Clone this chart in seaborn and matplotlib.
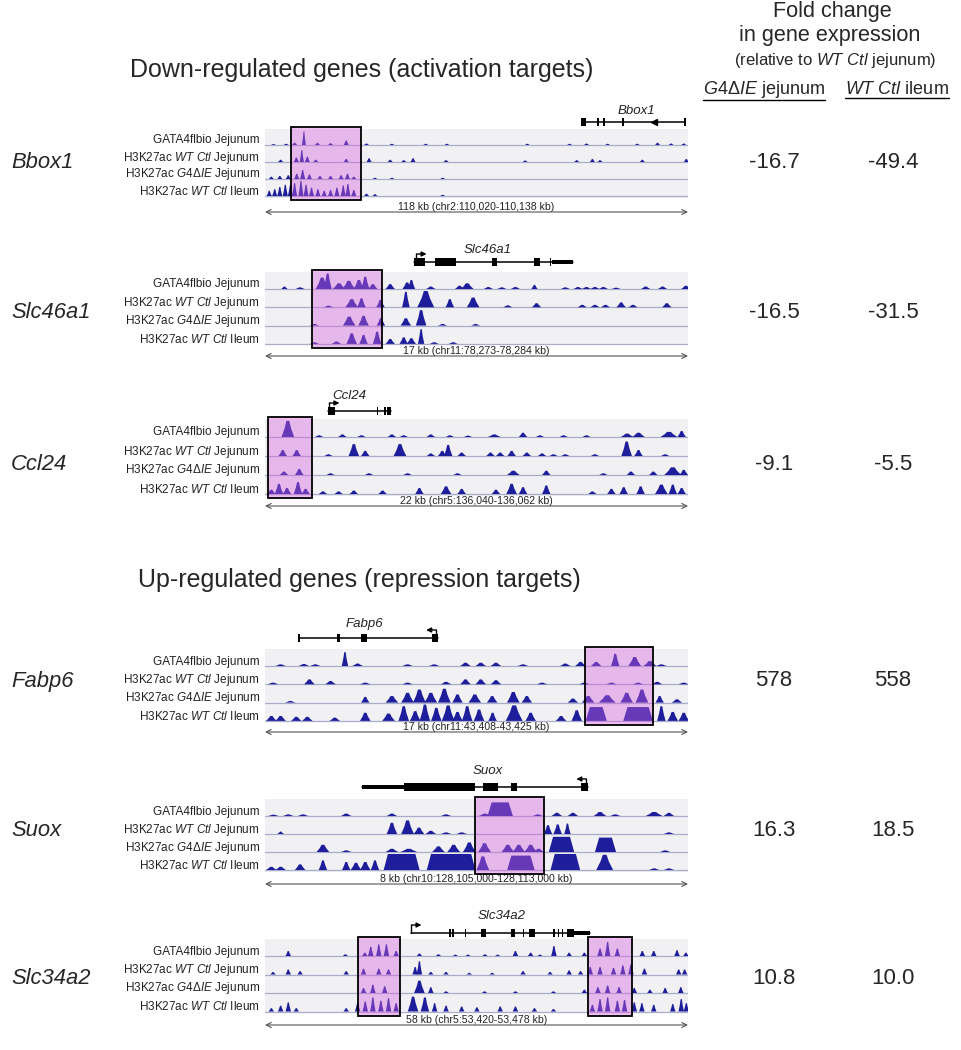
import matplotlib
matplotlib.use("Agg")
import pandas as pd
import seaborn as sns
import matplotlib.pyplot as plt
from matplotlib.lines import Line2D

W, H = 961, 1050

# ---- data ----
genes = ["Bbox1", "Slc46a1", "Ccl24", "Fabp6", "Suox", "Slc34a2"]
fold_g4 = [-16.7, -16.5, -9.1, 578, 16.3, 10.8]
fold_ileum = [-49.4, -31.5, -5.5, 558, 18.5, 10.0]
scale_labels = [
    "118 kb (chr2:110,020-110,138 kb)",
    "17 kb (chr11:78,273-78,284 kb)",
    "22 kb (chr5:136,040-136,062 kb)",
    "17 kb (chr11:43,408-43,425 kb)",
    "8 kb (chr10:128,105,000-128,113,000 kb)",
    "58 kb (chr5:53,420-53,478 kb)",
]
track_names = [
    "GATA4flbio Jejunum",
    r"H3K27ac $\mathit{WT\ Ctl}$ Jejunum",
    r"H3K27ac $\mathit{G4ΔIE}$ Jejunum",
    r"H3K27ac $\mathit{WT\ Ctl}$ Ileum",
]
# highlighted regions, % of window
highlights = [
    [(6.1, 22.7)],
    [(11.1, 27.7)],
    [(0.7, 11.1)],
    [(75.7, 91.7)],
    [(49.6, 66.0)],
    [(22.0, 31.9), (76.4, 86.8)],
]

# gene models: span, exons (start, end, kind), TSS (pos, direction), label pos
gene_spans = [(75.0, 99.3), (35.3, 72.8), (14.9, 29.8), (8.0, 40.9), (22.9, 76.4), (34.5, 76.8)]
gene_exons = [
    [(74.6, 75.8, "cds"), (78.5, 78.9, "cds"), (80.0, 80.4, "cds"), (84.4, 84.8, "cds"), (99.1, 99.5, "cds")],
    [(35.3, 37.8, "cds"), (40.2, 45.2, "cds"), (53.6, 54.8, "cds"), (63.6, 65.0, "cds"),
     (67.3, 67.6, "cds"), (67.8, 72.8, "utr")],
    [(14.9, 16.5, "cds"), (26.4, 26.8, "cds"), (28.2, 28.6, "cds"), (28.8, 29.8, "cds")],
    [(7.9, 8.2, "cds"), (17.0, 17.7, "cds"), (22.7, 24.1, "cds"), (39.5, 40.9, "cds")],
    [(22.9, 32.9, "utr"), (32.9, 49.6, "cds"), (51.5, 55.1, "cds"), (58.2, 59.6, "cds"), (74.6, 76.4, "cds")],
    [(43.6, 43.9, "cds"), (44.3, 44.6, "cds"), (47.2, 47.5, "cds"), (51.1, 52.2, "cds"), (58.2, 59.1, "cds"),
     (60.9, 61.2, "cds"), (62.4, 63.8, "cds"), (68.2, 68.5, "cds"), (69.2, 69.5, "cds"), (70.1, 70.4, "cds"),
     (71.4, 73.0, "cds"), (73.0, 76.8, "utr")],
]
gene_tss = [None, (35.8, 1), (15.2, 1), (40.5, -1), (76.0, -1), (34.6, 1)]
gene_label_x = [87.7, 52.7, 20.0, 23.6, 52.7, 56.0]

# signal peaks per track: (centre %, height 0-1[, width %])
bbox1_tracks = [
    [(2, 0.06), (5, 0.08), (7, 0.15), (9.2, 0.9, 0.9), (12.4, 0.15), (15.5, 0.12), (19.2, 0.3), (24, 0.1),
     (30, 0.08), (38, 0.08), (43, 0.08), (62, 0.08), (72, 0.08), (76, 0.1), (81, 0.08), (88, 0.08),
     (92.8, 0.15), (96, 0.1), (99, 0.1)],
    [(3.7, 0.15), (7.4, 0.3), (8.7, 0.8, 1.0), (10, 0.35), (12, 0.15), (19.2, 0.2), (24.6, 0.25),
     (29.6, 0.15), (32.8, 0.12), (35, 0.25), (42.8, 0.12), (61.5, 0.1), (73.7, 0.12), (77.4, 0.2),
     (79.2, 0.12), (89.2, 0.15), (99.6, 0.2)],
    [(1.5, 0.15), (3.5, 0.2), (5.5, 0.25), (7.5, 0.35), (8.9, 0.6), (10.5, 0.3), (13, 0.2), (15.5, 0.2),
     (18, 0.25), (19.5, 0.35), (21, 0.15), (26, 0.08), (30, 0.08), (42, 0.08)],
    [(1, 0.35), (2.3, 0.45), (3.5, 0.6), (4.8, 0.75), (6, 0.7), (7, 0.85), (8.5, 1.0), (9.7, 0.75),
     (11, 0.55), (12.5, 0.45), (14, 0.35), (15.5, 0.4), (17, 0.55), (18.5, 0.7), (19.6, 0.8), (21, 0.4),
     (24, 0.15), (26, 0.12), (42, 0.08)],
]
slc46a1_tracks = [
    [(4.6, 0.15, 1.5), (8.3, 0.1), (13.5, 0.7, 3), (14.8, 0.95, 2), (17.5, 0.35, 3), (19.8, 0.5, 3),
     (22.2, 0.55, 2.5), (23.7, 0.75, 2), (25.5, 0.3), (29.6, 0.3), (33.6, 0.4), (34.6, 0.55, 1.8),
     (39.2, 0.15), (46, 0.2), (47.8, 0.35, 3), (52.8, 0.12), (56, 0.1), (59.2, 0.12), (63.7, 0.25, 1.5),
     (71, 0.1), (74, 0.12), (76, 0.12), (78, 0.12), (80, 0.12), (83, 0.08), (90, 0.15), (94, 0.15),
     (99.5, 0.2)],
    [(15, 0.1), (20.5, 0.5, 3), (22.8, 0.55, 2), (27.3, 0.45, 2), (33.3, 0.95, 1.8), (38.0, 1.0, 4),
     (43.7, 0.5, 2), (49.2, 0.6, 3), (57.4, 0.12), (64.2, 0.25), (75, 0.15), (78, 0.15), (80.5, 0.15),
     (84.2, 0.3), (87, 0.15), (95, 0.25)],
    [(11.7, 0.1), (19.9, 0.55, 3), (23.3, 0.6, 2.5), (27.4, 0.45, 2), (33.3, 0.45, 2.5), (36.9, 0.95, 2.5),
     (42, 0.1), (49.8, 0.1)],
    [(11.7, 0.1), (16.9, 0.15), (20.5, 0.65, 2.5), (23.3, 0.55, 2), (26.5, 0.75, 2), (29.6, 0.3),
     (32.8, 0.4, 2), (34.6, 0.35), (36.9, 0.9, 1.5), (40, 0.1), (44.5, 0.1)],
]
ccl24_tracks = [
    [(5.4, 0.95, 3), (12.8, 0.1), (18.3, 0.15), (22.8, 0.1), (30, 0.15), (32.8, 0.1), (39.2, 0.15),
     (43.7, 0.1), (48, 0.08), (54.2, 0.15, 3), (61, 0.25), (65, 0.1), (70.6, 0.1), (76, 0.1),
     (85.6, 0.2, 3), (88.3, 0.25, 3), (95.5, 0.3, 4), (98.5, 0.35)],
    [(4.2, 0.35), (7.5, 0.35), (15, 0.1), (21, 0.7, 2.5), (23.7, 0.3), (31.9, 0.7, 3), (39.2, 0.15),
     (41.9, 0.3), (43.3, 0.65), (46.5, 0.2), (53.3, 0.2), (55.6, 0.2), (58.3, 0.3), (61.9, 0.2),
     (65.5, 0.15), (68.2, 0.1), (71, 0.1), (78, 0.1), (85.5, 0.85, 2.5), (88.3, 0.35), (94.6, 0.1)],
    [(4.5, 0.2), (8.1, 0.35), (15.5, 0.1), (24.6, 0.1), (33.7, 0.1), (45.5, 0.1), (58.7, 0.25, 3),
     (66.5, 0.25), (80, 0.1), (86.5, 0.2), (91.8, 0.2), (96.4, 0.45, 4), (99, 0.3)],
    [(1.5, 0.25), (3.3, 0.6), (5.2, 0.35), (7.8, 0.7), (9.6, 0.3), (13.7, 0.15), (17.4, 0.15), (21, 0.2),
     (27.8, 0.2), (36.5, 0.35), (42.8, 0.45, 2.5), (46.5, 0.3), (54.6, 0.25), (58.3, 0.6, 2.5), (61, 0.4),
     (66.5, 0.5), (77.4, 0.15), (81.9, 0.3), (84.8, 0.4), (88.8, 0.45), (93.7, 0.55, 3), (96.4, 0.55),
     (98.5, 0.35)],
]
fabp6_tracks = [
    [(3.7, 0.1), (9.2, 0.12), (11.9, 0.1), (18.9, 0.85, 1.5), (21.9, 0.15), (33.7, 0.1), (40, 0.1),
     (47.4, 0.2), (51, 0.2), (54.6, 0.2), (61, 0.1), (71, 0.15), (74.6, 0.25), (78.3, 0.25),
     (82.8, 0.75, 2), (87.4, 0.55, 3), (91, 0.3, 3), (93.7, 0.1)],
    [(1.9, 0.1), (10.5, 0.3), (15.5, 0.2), (23.7, 0.1), (33.7, 0.1), (42.8, 0.15), (47.4, 0.3), (51, 0.3),
     (54.6, 0.25), (65.5, 0.1), (75.5, 0.1), (81.9, 0.1), (88.2, 0.1), (92.7, 0.15), (99, 0.1)],
    [(6, 0.1), (23.7, 0.35, 2), (30, 0.4, 3), (33.7, 0.6, 3), (36.5, 0.8, 3), (39.2, 0.6, 3), (42.4, 0.85, 3),
     (45.5, 0.5), (49.6, 0.5, 3), (53.7, 0.4), (58.7, 0.65, 3), (61.9, 0.4), (72.8, 0.25), (76.4, 0.4, 3),
     (80.9, 0.45, 4), (85.5, 0.6, 3), (89.1, 0.8, 3), (93.3, 0.4, 2), (97.4, 0.2)],
    [(1.5, 0.3), (3.7, 0.3), (7.4, 0.25), (10, 0.25), (16.5, 0.2), (23.7, 0.5), (29.2, 0.45, 3),
     (32.8, 0.9), (35.5, 0.6), (37.8, 1.0), (40.5, 0.8), (43.3, 0.95, 3), (45.5, 0.55), (47.8, 0.9),
     (50.6, 0.7), (53.8, 0.5, 2), (58.9, 0.95, 4), (62.8, 0.5), (70, 0.3), (73.7, 0.65), (78.3, 0.85, 5),
     (88.2, 0.85, 7), (93.7, 0.9, 2), (96.4, 0.55), (99, 0.5)],
]
suox_tracks = [
    [(2, 0.08), (5.5, 0.1), (9, 0.1), (19.2, 0.15), (30, 0.15), (42.8, 0.1), (52, 0.15, 3), (55.6, 0.85, 6),
     (64.5, 0.1), (69, 0.2), (72.8, 0.2), (79.2, 0.25, 3), (82.8, 0.1), (92, 0.25, 4), (95.5, 0.2)],
    [(3.7, 0.15, 1.5), (30, 0.7), (33.7, 0.85, 3), (36.4, 0.4), (39.2, 0.2), (42.8, 0.1), (46.5, 0.1),
     (66.9, 0.55, 2), (69.2, 0.6, 2), (71.5, 0.65, 1.5), (95.5, 0.1)],
    [(13.7, 0.45, 3), (19.2, 0.1), (30, 0.2, 3), (34, 0.2, 4), (41, 0.35, 3), (44.6, 0.45, 3),
     (48.3, 0.6, 3), (51.9, 0.55, 3), (57.4, 0.45, 3), (60, 0.45, 3), (62.8, 0.45, 3), (64.7, 0.2),
     (70.1, 0.95, 6), (80.5, 0.9, 5), (94.6, 0.1)],
    [(1.5, 0.2), (3.7, 0.2), (8.3, 0.35), (13.7, 0.6, 2), (19.2, 0.5, 2), (21.5, 0.45), (23.7, 0.5),
     (26, 0.6, 2), (32.3, 1.0, 8.5), (44, 1.0, 11.5), (51.5, 0.85, 3), (60.5, 0.9, 6.5), (71, 1.0, 7),
     (80.3, 0.95, 4), (92, 0.1), (95.5, 0.1)],
]
slc34a2_tracks = [
    [(5.5, 0.3), (19, 0.1), (23.6, 0.2), (25, 0.55), (26.9, 0.7), (28.7, 0.7), (31, 0.3), (36.5, 0.15),
     (41, 0.1), (45, 0.08), (48, 0.08), (52, 0.1), (55, 0.08), (59.2, 0.3), (62.8, 0.2), (65, 0.08),
     (68.3, 0.6), (71.9, 0.2), (75.5, 0.2), (79.2, 0.45), (81, 0.85), (83.3, 0.45), (89.2, 0.3),
     (91.9, 0.3), (97.4, 0.35), (99.5, 0.2)],
    [(1.9, 0.15), (5.5, 0.3), (8.3, 0.2), (19.2, 0.2), (23.3, 0.35), (26.9, 0.35), (29.2, 0.3),
     (35.5, 0.45), (36.5, 0.8), (39.2, 0.15), (42.8, 0.15), (48.3, 0.1), (53.7, 0.1), (61, 0.2),
     (67.4, 0.15), (71.9, 0.25), (74.6, 0.2), (76.9, 0.45), (79.2, 0.45), (82.4, 0.4), (84.6, 0.55),
     (86.5, 0.6), (89.7, 0.35), (97.8, 0.3), (99.2, 0.3)],
    [(23.3, 0.3), (25.5, 0.5), (28.3, 0.4), (36.5, 0.75, 2.5), (39.2, 0.35), (42.8, 0.1), (51.9, 0.1),
     (59.2, 0.1), (68.2, 0.1), (75.5, 0.2), (78.7, 0.35), (81, 0.45), (83.7, 0.35), (87.3, 0.3),
     (91, 0.2), (94.6, 0.3), (98.3, 0.35)],
    [(1.5, 0.2), (3.7, 0.35), (5.5, 0.55), (7.4, 0.2), (19.2, 0.2), (21.9, 0.5), (23.7, 0.6), (25.5, 0.85),
     (27.4, 0.65), (29.2, 0.8), (31, 0.5), (35, 0.9, 2.5), (37.8, 0.85, 2), (40.1, 0.5), (42.8, 0.35),
     (46.5, 0.3), (50.1, 0.25), (55.6, 0.3), (59.2, 0.3), (63.7, 0.2), (68.2, 0.15), (77.4, 0.4),
     (79.2, 0.75), (81, 0.85), (83.3, 0.65), (85, 0.7), (87.3, 0.55), (89.1, 0.5), (91.9, 0.4),
     (96.4, 0.45), (98.4, 0.75), (99.6, 0.5)],
]
all_tracks = [bbox1_tracks, slc46a1_tracks, ccl24_tracks, fabp6_tracks, suox_tracks, slc34a2_tracks]

# ---- layout (pixels) ----
# label_y, gene_y, first baseline, row height, scale_y
panel_layout = [
    (111, 122, 145, 17.0, 212),
    (250, 262, 289, 18.3, 356),
    (396, 411, 437, 19.0, 506),
    (624, 638, 666, 18.3, 732),
    (771, 787, 816, 18.0, 884),
    (916, 933, 956, 18.5, 1025),
]
default_width = [1.2, 2.2, 2.0, 2.5, 2.5, 1.3]
row_y = [163, 313, 465, 681, 830, 978]

sig_color = "#1e1e9c"
pink = (215 / 255, 97 / 255, 225 / 255)

sns.set_theme(style="white")
plt.rcParams["font.family"] = ["Liberation Sans", "DejaVu Sans"]
plt.rcParams["mathtext.fontset"] = "custom"
plt.rcParams["mathtext.rm"] = "Liberation Sans"
plt.rcParams["mathtext.it"] = "Liberation Sans:italic"

fig = plt.figure(figsize=(W / 100, H / 100), dpi=100)


def fx(px):
    return px / W


def fy(py):
    return 1 - py / H


for i, gene in enumerate(genes):
    ly, gy, b0, row, sy = panel_layout[i]
    top, bot = ly - 12, sy + 8
    ax = fig.add_axes([fx(265), fy(bot), fx(688) - fx(265), fy(top) - fy(bot)])
    baselines = [b0 + k * row for k in range(4)]

    # track background
    ax.axhspan(b0 - row + 1, baselines[-1] + 1.5, color="#f1f1f3", zorder=0, lw=0)

    # baselines
    bl = pd.DataFrame({"x": [0, 100] * 4,
                       "y": [b for b in baselines for _ in range(2)],
                       "track": [k for k in range(4) for _ in range(2)]})
    sns.lineplot(data=bl, x="x", y="y", units="track", estimator=None,
                 color="#a9adc9", lw=0.9, ax=ax, legend=False)

    # signal
    for k, peaks in enumerate(all_tracks[i]):
        b = baselines[k]
        for pk in peaks:
            c, h = pk[0], pk[1]
            w = pk[2] if len(pk) > 2 else default_width[i]
            hh = h * (row - 2)
            if w <= 4:
                xs = [c - w / 2, c - w / 4, c - w / 9, c + w / 9, c + w / 4, c + w / 2]
                ys = [b, b - 0.55 * hh, b - hh, b - hh, b - 0.55 * hh, b]
            else:
                xs = [c - w / 2, c - w / 2 + 1.0, c + w / 2 - 1.0, c + w / 2]
                ys = [b, b - hh, b - hh, b]
            ax.fill(xs, ys, color=sig_color, lw=0, zorder=2)
        ax.text(-1.2, b - 4.5, track_names[k], ha="right", va="center", fontsize=8.5,
                color="#222222", clip_on=False)

    # highlighted regions
    for s, e in highlights[i]:
        y0, y1 = b0 - row - 1, baselines[-1] + 4
        ax.add_patch(plt.Rectangle((s, y0), e - s, y1 - y0, facecolor=pink, alpha=0.4, lw=0, zorder=3))
        ax.add_patch(plt.Rectangle((s, y0), e - s, y1 - y0, facecolor="none", edgecolor="black",
                                   lw=1.3, zorder=4))

    # gene model
    gs, ge = gene_spans[i]
    ax.plot([gs, ge], [gy, gy], color="black", lw=1.1, zorder=5)
    for es, ee, kind in gene_exons[i]:
        hh = 8 if kind == "cds" else 4.5
        ax.add_patch(plt.Rectangle((es, gy - hh / 2), ee - es, hh, color="black", lw=0, zorder=5))
    if gene_tss[i] is not None:
        tx, d = gene_tss[i]
        ax.plot([tx, tx], [gy, gy - 8], color="black", lw=1.0, zorder=5)
        ax.annotate("", xy=(tx + d * 2.4, gy - 8), xytext=(tx, gy - 8),
                    arrowprops=dict(arrowstyle="-|>", lw=1.0, color="black",
                                    shrinkA=0, shrinkB=0, mutation_scale=7))
    if gene == "Bbox1":
        ax.plot([92.0], [gy], marker="<", ms=4, color="black", zorder=5)
    ax.text(gene_label_x[i], ly, gene, ha="center", va="center", fontsize=9.5, style="italic",
            color="#222222")

    # scale bar
    ax.annotate("", xy=(0, sy), xytext=(100, sy),
                arrowprops=dict(arrowstyle="<->", color="#555555", lw=0.8,
                                shrinkA=0, shrinkB=0, mutation_scale=9))
    ax.text(50, sy - 0.3, scale_labels[i], ha="center", va="bottom", fontsize=7.6, color="#222222")

    ax.set_xlim(0, 100)
    ax.set_ylim(bot, top)
    ax.axis("off")

    # gene name and fold changes
    fig.text(fx(11), fy(row_y[i]), gene, ha="left", va="center", fontsize=15.8, style="italic")
    for v, cx in [(fold_g4[i], 774), (fold_ileum[i], 893)]:
        txt = f"{v:.0f}" if abs(v) >= 100 else f"{v:.1f}"
        fig.text(fx(cx), fy(row_y[i]), txt, ha="center", va="center", fontsize=16)

# titles
fig.text(fx(130), fy(70), "Down-regulated genes (activation targets)", ha="left", va="center", fontsize=18)
fig.text(fx(138), fy(580), "Up-regulated genes (repression targets)", ha="left", va="center", fontsize=18)

fig.text(fx(832), fy(11), "Fold change", ha="center", va="center", fontsize=15.6)
fig.text(fx(830), fy(36), "in gene expression", ha="center", va="center", fontsize=15.6)
fig.text(fx(835), fy(60), r"(relative to $\mathit{WT\ Ctl}$ jejunum)", ha="center", va="center", fontsize=12)
heads = [fig.text(fx(764), fy(90), r"$\mathit{G4ΔIE}$ jejunum", ha="center", va="center", fontsize=13),
         fig.text(fx(897), fy(90), r"$\mathit{WT\ Ctl}$ ileum", ha="center", va="center", fontsize=13)]

fig.canvas.draw()
inv = fig.transFigure.inverted()
for t in heads:
    bb = t.get_window_extent(fig.canvas.get_renderer())
    (x0, y0), (x1, _) = inv.transform([(bb.x0, bb.y0), (bb.x1, bb.y1)])
    fig.add_artist(Line2D([x0, x1], [y0 + 0.5 / H, y0 + 0.5 / H], transform=fig.transFigure,
                          color="black", lw=1.0))

fig.savefig("out.png", dpi=100)
